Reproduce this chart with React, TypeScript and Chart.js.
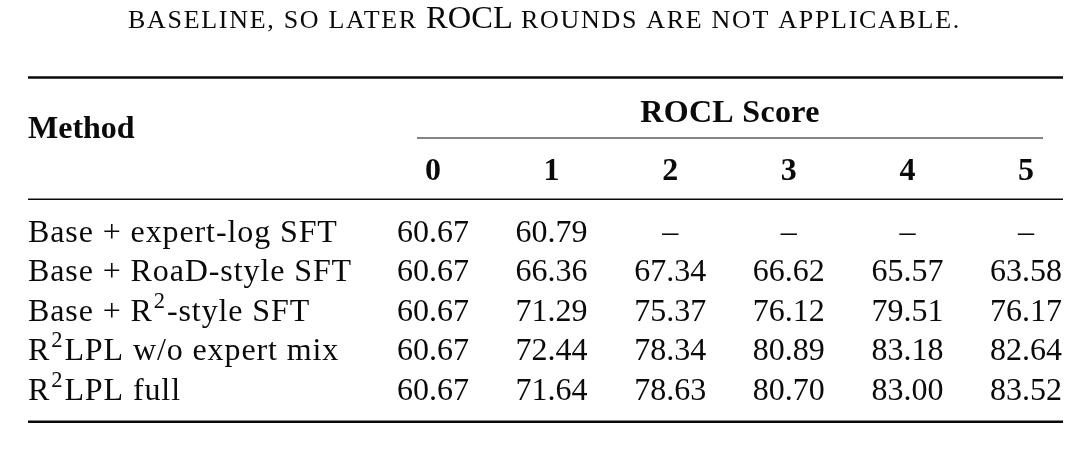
import React, { useEffect, useRef } from 'react';
import { Chart, registerables } from 'chart.js';

Chart.register(...registerables);

// ---------- data ----------
const captionParts = [
  { text: 'baseline, so later ', smallCaps: true },
  { text: 'ROCL', smallCaps: false },
  { text: ' rounds are not applicable.', smallCaps: true },
];
const methodHeader = 'Method';
const groupHeader = 'ROCL Score';
const roclRounds = ['0', '1', '2', '3', '4', '5'];
const methods = [
  'Base + expert-log SFT',
  'Base + RoaD-style SFT',
  'Base + R^2-style SFT',
  'R^2LPL w/o expert mix',
  'R^2LPL full',
];
const expertLogSft = [60.67, 60.79, null, null, null, null];
const roadStyleSft = [60.67, 66.36, 67.34, 66.62, 65.57, 63.58];
const r2StyleSft = [60.67, 71.29, 75.37, 76.12, 79.51, 76.17];
const r2lplNoMix = [60.67, 72.44, 78.34, 80.89, 83.18, 82.64];
const r2lplFull = [60.67, 71.64, 78.63, 80.7, 83.0, 83.52];
const rowValues: (number | null)[][] = [expertLogSft, roadStyleSft, r2StyleSft, r2lplNoMix, r2lplFull];
const missingMark = '–';

// ---------- style ----------
const W = 1080;
const H = 465;
const SERIF = "'Liberation Serif', 'Times New Roman', Times, serif";
const BODY = 32;
const SUP = 22.5;
const SUP_RAISE = 13;
const CAP_BIG = 32.5;
const CAP_SMALL = 26;
const CAP_SMALL_SPACING = 1.7;
const LABEL_SPACING = 0.9;
const INK = '#0a0a0a';

function setSpacing(ctx: any, px: number) {
  if ('letterSpacing' in ctx) ctx.letterSpacing = `${px}px`;
}

function drawRich(ctx: CanvasRenderingContext2D, text: string, x: number, y: number, weight: string) {
  const parts = text.split(/\^(\d)/);
  let cx = x;
  ctx.textAlign = 'left';
  parts.forEach((p, i) => {
    if (!p) return;
    if (i % 2 === 1) {
      ctx.font = `${weight} ${SUP}px ${SERIF}`;
      cx += 1;
      ctx.fillText(p, cx, y - SUP_RAISE);
      cx += ctx.measureText(p).width + 1;
    } else {
      ctx.font = `${weight} ${BODY}px ${SERIF}`;
      ctx.fillText(p, cx, y);
      cx += ctx.measureText(p).width;
    }
  });
}

const tablePlugin = {
  id: 'tablePlugin',
  afterDraw(chart: any) {
    const ctx: CanvasRenderingContext2D = chart.ctx;
    const xs = chart.scales.x;
    const ys = chart.scales.y;
    const colX = (i: number) => xs.getPixelForValue(i);
    const row0 = ys.getPixelForValue(0);
    const rowLast = ys.getPixelForValue(methods.length - 1);
    const left = 28;
    const right = colX(roclRounds.length - 1) + 37;

    ctx.save();
    ctx.fillStyle = INK;
    ctx.strokeStyle = INK;
    ctx.textBaseline = 'alphabetic';

    // caption
    const capY = row0 - 213.5;
    const capFont = (p: { smallCaps: boolean }) => {
      ctx.font = `${p.smallCaps ? CAP_SMALL : CAP_BIG}px ${SERIF}`;
      setSpacing(ctx, p.smallCaps ? CAP_SMALL_SPACING : 0);
    };
    const capText = (p: { text: string; smallCaps: boolean }) => (p.smallCaps ? p.text.toUpperCase() : p.text);
    const widths = captionParts.map((p) => {
      capFont(p);
      return ctx.measureText(capText(p)).width;
    });
    const total = widths.reduce((a, b) => a + b, 0);
    let cx = 544.5 - total / 2;
    ctx.textAlign = 'left';
    captionParts.forEach((p, i) => {
      capFont(p);
      ctx.fillText(capText(p), cx, capY);
      cx += widths[i];
    });
    setSpacing(ctx, 0);

    const rule = (y: number, lw: number, x1: number, x2: number) => {
      ctx.lineWidth = lw;
      ctx.beginPath();
      ctx.moveTo(x1, y);
      ctx.lineTo(x2, y);
      ctx.stroke();
    };
    // rules
    rule(row0 - 164, 2.6, left, right);
    rule(row0 - 103.5, 1.1, colX(0) - 16, colX(roclRounds.length - 1) + 17);
    rule(row0 - 42.2, 1.6, left, right);
    rule(rowLast + 22.2, 2.6, left, right);

    // headers
    ctx.font = `bold ${BODY}px ${SERIF}`;
    ctx.textAlign = 'left';
    ctx.fillText(methodHeader, left, row0 - 103.2);
    ctx.textAlign = 'center';
    setSpacing(ctx, 0.3);
    ctx.fillText(groupHeader, (colX(0) - 16 + colX(roclRounds.length - 1) + 17) / 2, row0 - 119.5);
    setSpacing(ctx, 0);
    roclRounds.forEach((r, i) => {
      ctx.fillText(r, colX(i), row0 - 61.5);
    });

    // row labels and cells
    chart.data.datasets.forEach((ds: any, r: number) => {
      const meta = chart.getDatasetMeta(r);
      setSpacing(ctx, LABEL_SPACING);
      drawRich(ctx, methods[r], left, ys.getPixelForValue(r), 'normal');
      setSpacing(ctx, 0);
      ctx.font = `${BODY}px ${SERIF}`;
      ctx.textAlign = 'center';
      meta.data.forEach((el: any, c: number) => {
        const v = ds.data[c].v;
        ctx.fillText(v == null ? missingMark : v.toFixed(2), el.x, el.y);
      });
    });
    ctx.restore();
  },
};

export default function App() {
  const ref = useRef<HTMLCanvasElement | null>(null);
  useEffect(() => {
    if (!ref.current) return;
    const chart = new Chart(ref.current, {
      type: 'scatter',
      data: {
        datasets: rowValues.map((vals, r) => ({
          label: methods[r],
          data: vals.map((v, c) => ({ x: c, y: r, v })),
          pointRadius: 0,
          pointHoverRadius: 0,
          showLine: false,
        })),
      } as any,
      options: {
        animation: false,
        responsive: false,
        events: [],
        layout: { padding: { left: 433, right: 54, top: 241.5, bottom: 65.5 } },
        scales: {
          x: { type: 'linear', min: 0, max: roclRounds.length - 1, display: false },
          y: { type: 'linear', min: 0, max: methods.length - 1, reverse: true, display: false },
        },
        plugins: { legend: { display: false }, tooltip: { enabled: false } },
      },
      plugins: [tablePlugin],
    });
    return () => chart.destroy();
  }, []);
  return (
    <div style={{ position: 'absolute', left: 0, top: 0, width: W, height: H, background: '#fff' }}>
      <canvas ref={ref} width={W} height={H} style={{ display: 'block', width: W, height: H }} />
    </div>
  );
}
